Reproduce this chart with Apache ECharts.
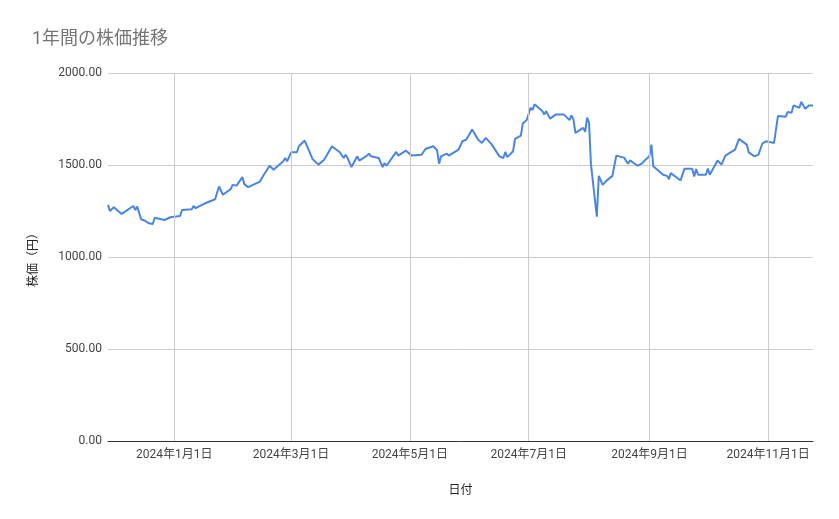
<!DOCTYPE html>
<html><head><meta charset="utf-8">
<script src="https://cdn.jsdelivr.net/npm/echarts@6/dist/echarts.min.js"></script>
<style>html,body{margin:0;padding:0;background:#fff}#c{width:839px;height:519px}</style>
</head><body><div id="c"></div>
<script>
const dates = ["2023-11-28","2023-11-29","2023-12-01","2023-12-05","2023-12-11","2023-12-12","2023-12-13","2023-12-15","2023-12-17","2023-12-19","2023-12-21","2023-12-22","2023-12-27","2023-12-30",
"2024-01-04","2024-01-05","2024-01-10","2024-01-11","2024-01-12","2024-01-16","2024-01-17","2024-01-22","2024-01-24","2024-01-26","2024-01-30","2024-01-31",
"2024-02-02","2024-02-05","2024-02-06","2024-02-08","2024-02-14","2024-02-15","2024-02-16","2024-02-19","2024-02-21","2024-02-26","2024-02-27","2024-02-28",
"2024-03-01","2024-03-04","2024-03-05","2024-03-08","2024-03-12","2024-03-15","2024-03-18","2024-03-19","2024-03-22","2024-03-26","2024-03-27","2024-03-28","2024-03-29","2024-03-30",
"2024-04-01","2024-04-02","2024-04-04","2024-04-05","2024-04-09","2024-04-10","2024-04-11","2024-04-15","2024-04-17","2024-04-18","2024-04-19","2024-04-24","2024-04-25","2024-04-29",
"2024-05-02","2024-05-07","2024-05-08","2024-05-09","2024-05-13","2024-05-15","2024-05-16","2024-05-17","2024-05-20","2024-05-21","2024-05-26","2024-05-28","2024-05-29","2024-05-30",
"2024-06-02","2024-06-05","2024-06-06","2024-06-07","2024-06-09","2024-06-12","2024-06-16","2024-06-18","2024-06-19","2024-06-20","2024-06-23","2024-06-24","2024-06-27","2024-06-28","2024-06-30",
"2024-07-02","2024-07-03","2024-07-04","2024-07-08","2024-07-09","2024-07-10","2024-07-11","2024-07-12","2024-07-15","2024-07-19","2024-07-22","2024-07-23","2024-07-24","2024-07-25","2024-07-29","2024-07-30","2024-07-31",
"2024-08-01","2024-08-02","2024-08-05","2024-08-06","2024-08-08","2024-08-10","2024-08-13","2024-08-15","2024-08-19","2024-08-21","2024-08-22","2024-08-26","2024-08-28","2024-08-30",
"2024-09-01","2024-09-02","2024-09-03","2024-09-08","2024-09-10","2024-09-11","2024-09-12","2024-09-17","2024-09-19","2024-09-23","2024-09-24","2024-09-25","2024-09-26","2024-09-30",
"2024-10-01","2024-10-02","2024-10-03","2024-10-06","2024-10-07","2024-10-08","2024-10-10","2024-10-15","2024-10-17","2024-10-21","2024-10-22","2024-10-25","2024-10-27","2024-10-29","2024-10-31",
"2024-11-01","2024-11-04","2024-11-06","2024-11-10","2024-11-11","2024-11-13","2024-11-14","2024-11-17","2024-11-18","2024-11-20","2024-11-22","2024-11-24"];
const prices = [1283,1250,1270,1234,1277,1255,1274,1205,1197,1183,1179,1213,1201,1216,
1223,1255,1259,1277,1265,1288,1283,1314,1383,1338,1369,1392,
1388,1434,1396,1380,1410,1405,1447,1496,1474,1520,1538,1520,
1569,1569,1602,1633,1533,1502,1529,1524,1602,1569,1566,1538,1556,1538,
1489,1496,1547,1524,1551,1562,1547,1538,1489,1511,1496,1571,1551,1578,
1551,1556,1547,1587,1602,1580,1507,1547,1562,1551,1584,1629,1624,1638,
1693,1638,1647,1620,1647,1612,1547,1538,1571,1543,1575,1642,1660,1726,1744,
1811,1799,1830,1793,1775,1793,1790,1752,1775,1775,1744,1769,1748,1675,1702,1680,1757,
1730,1502,1219,1441,1392,1415,1441,1551,1540,1507,1525,1496,1507,1529,
1547,1611,1493,1447,1441,1423,1456,1416,1480,1480,1438,1478,1447,1447,
1480,1447,1447,1525,1532,1502,1551,1584,1642,1611,1569,1547,1556,1617,1629,
1620,1620,1766,1762,1788,1784,1824,1811,1843,1806,1824,1824];
const tickDates = ["2024-01-01","2024-03-01","2024-05-01","2024-07-01","2024-09-01","2024-11-01"];
const tickLabels = ["2024年1月1日","2024年3月1日","2024年5月1日","2024年7月1日","2024年9月1日","2024年11月1日"];
const yTicks = [0,500,1000,1500,2000];

const F = "Roboto, 'Noto Sans CJK JP', sans-serif";
const chart = echarts.init(document.getElementById('c'));
chart.setOption({
  animation:false,
  textStyle:{fontFamily:F},
  title:{text:'1年間の株価推移',left:27,top:26,textStyle:{color:'#757575',fontSize:18,fontWeight:'normal',fontFamily:F}},
  grid:{left:108,right:26,top:73,bottom:78},
  xAxis:{type:'time',min:'2023-11-28',max:'2024-11-24',
    name:'日付',nameLocation:'middle',nameGap:44,nameTextStyle:{color:'#222',fontSize:12},
    axisLabel:{show:false},axisTick:{show:false},splitLine:{show:false},
    axisLine:{lineStyle:{color:'#333'}}},
  yAxis:{type:'value',min:yTicks[0],max:yTicks[yTicks.length-1],interval:500,
    name:'株価（円）',nameLocation:'middle',nameGap:68,nameTextStyle:{color:'#222',fontSize:12},
    axisLabel:{color:'#444',fontSize:12,formatter:v=>v.toFixed(2),margin:6},
    axisLine:{show:false},axisTick:{show:false},
    splitLine:{lineStyle:{color:'#cccccc'}}},
  series:[{type:'line',data:dates.map((d,i)=>[d,prices[i]]),showSymbol:false,
    lineStyle:{color:'#4a86e0',width:2},itemStyle:{color:'#4a86e0'},
    markLine:{silent:true,symbol:'none',animation:false,
      lineStyle:{color:'#cccccc',width:1,type:'solid'},
      label:{position:'start',color:'#444',fontSize:12,distance:8,fontFamily:F},
      data:tickDates.map((d,i)=>({xAxis:d,label:{formatter:tickLabels[i]}}))}}]
});
</script></body></html>
